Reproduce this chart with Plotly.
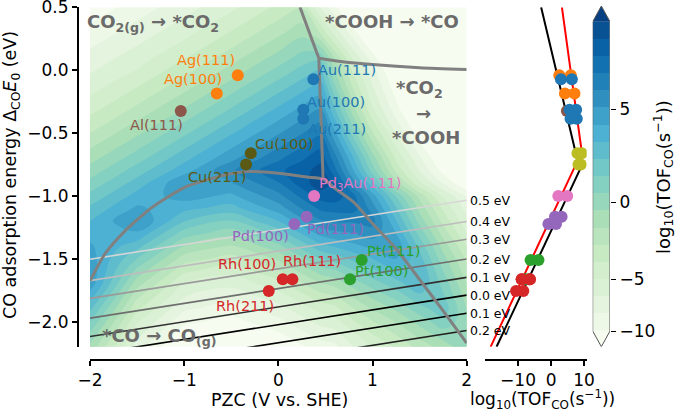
import numpy as np
import plotly.graph_objects as go
from plotly.colors import sequential, sample_colorscale

W, H = 675, 411
FONT = "DejaVu Sans"

# ---------------- data ----------------
# log10(TOF) field, rows from dE = 0.5 (top) down to dE = -2.2 (bottom)
pzc_grid = [-2.0, -1.5, -1.0, -0.5, 0.0, 0.25, 0.45, 0.6, 0.8, 1.0, 1.25, 1.5, 1.75, 2.0]
dE_grid = [0.5, 0.3, 0.1, 0.0, -0.1, -0.3, -0.5, -0.7, -0.8, -0.9, -1.0, -1.1, -1.2,
           -1.3, -1.4, -1.5, -1.6, -1.7, -1.8, -1.9, -2.0, -2.1, -2.2]
log_tof_grid = [
    [-11.1, -9.2, -7.3, -5.4, -3.5, -2.7, -6.8, -9.6, -13.4, -17.2, -20, -20, -20, -20],
    [-9.4, -7.5, -5.6, -3.7, -1.8, -0.85, -2.8, -5.65, -9.4, -13.2, -17.9, -20, -20, -20],
    [-7.7, -5.8, -3.9, -2.0, -0.1, 0.85, 1.1, -1.7, -5.5, -9.3, -14.0, -18.7, -20, -20],
    [-6.85, -4.95, -3.05, -1.15, 0.75, 1.7, 2.45, -0.6, -4.2, -7.8, -12.3, -16.8, -20, -20],
    [-6.0, -4.1, -2.2, -0.3, 1.6, 2.55, 3.3, 0.35, -3.2, -6.8, -11.3, -15.8, -20, -20],
    [-4.3, -2.4, -0.5, 1.4, 3.3, 4.25, 5.0, 2.3, -1.3, -4.9, -9.4, -13.9, -18.4, -20],
    [-2.6, -0.7, 1.2, 3.1, 5.0, 5.95, 6.7, 4.3, 0.9, -2.5, -6.7, -11.0, -15.2, -19.5],
    [-0.9, 1.0, 2.9, 4.8, 6.7, 7.65, 8.4, 6.4, 3.2, 0.0, -4.0, -8.0, -12.0, -16.0],
    [-0.05, 1.85, 3.75, 5.85, 7.6, 8.3, 9.1, 7.2, 4.1, 1.0, -2.9, -6.7, -10.6, -14.5],
    [0.8, 2.7, 5.0, 5.0, 6.8, 8.25, 9.3, 8.35, 5.5, 2.6, -1.1, -4.7, -8.3, -11.9],
    [1.65, 3.55, 4.55, 3.9, 5.7, 7.15, 8.2, 8.35, 7.15, 4.55, 1.3, -1.9, -5.2, -8.4],
    [2.5, 4.3, 3.45, 2.8, 4.6, 6.05, 7.1, 7.25, 7.25, 5.6, 2.4, -0.8, -4.0, -7.2],
    [3.2, 5.15, 2.35, 1.35, 3.2, 4.75, 5.9, 6.15, 6.15, 6.35, 3.25, 0.1, -3.0, -6.15],
    [3.8, 3.9, 0.95, -0.15, 1.7, 3.25, 4.4, 4.8, 5.05, 5.55, 4.1, 1.1, -1.9, -4.9],
    [4.25, 2.65, -0.55, -1.65, 0.2, 1.75, 2.9, 3.3, 3.85, 4.4, 4.85, 2.0, -0.9, -3.75],
    [4.6, 1.4, -2.05, -3.15, -1.3, 0.25, 1.4, 1.8, 2.55, 3.2, 4.1, 2.65, -0.1, -2.85],
    [4.85, 0.15, -3.55, -4.65, -2.8, -1.25, -0.1, 0.3, 1.25, 2.05, 3.0, 3.2, 0.5, -2.15],
    [4.75, -1.1, -5.05, -6.15, -4.3, -2.75, -1.6, -1.2, -0.05, 0.9, 1.9, 3.1, 1.1, -1.5],
    [3.6, -2.35, -6.55, -7.65, -5.8, -4.25, -3.1, -2.7, -1.35, -0.3, 0.8, 2.05, 1.55, -0.95],
    [2.5, -3.6, -8.05, -9.15, -7.3, -5.75, -4.6, -4.2, -2.65, -1.45, -0.35, 1.0, 1.95, -0.5],
    [1.4, -4.85, -9.55, -10.65, -8.8, -7.25, -6.1, -5.7, -3.95, -2.65, -1.45, -0.1, 1.1, -0.1],
    [0.3, -6.1, -11.05, -12.15, -10.3, -8.75, -7.6, -7.2, -5.25, -3.8, -2.55, -1.15, 0.0, 0.3],
    [-0.8, -7.35, -12.55, -13.65, -11.8, -10.25, -9.1, -8.7, -6.55, -4.95, -3.65, -2.2, -1.05, 0.2],
]

# contour levels
levels = [-10.0, -8.3, -6.6, -5.0, -3.8, -2.6, -1.5, -0.5, 0.5, 1.4, 2.3, 3.2,
          4.1, 5.1, 6.0, 6.9, 7.8, 8.7, 9.6]
cbar_tick_values = [-10, -5, 0, 5]
cbar_tick_text = ["\u221210", "\u22125", "0", "5"]

surfaces = ["Ag(111)", "Ag(100)", "Al(111)", "Au(111)", "Au(100)", "Au(211)",
            "Cu(100)", "Cu(211)", "Pd<sub>3</sub>Au(111)", "Pd(111)", "Pd(100)",
            "Pt(111)", "Pt(100)", "Rh(100)", "Rh(111)", "Rh(211)"]
pzc = [-0.431, -0.654, -1.036, 0.372, 0.265, 0.265, -0.293, -0.343, 0.38, 0.30,
       0.17, 0.885, 0.761, 0.047, 0.149, -0.102]
dE_CO = [-0.040, -0.186, -0.325, -0.072, -0.314, -0.386, -0.660, -0.751, -1.000,
         -1.166, -1.224, -1.509, -1.663, -1.663, -1.663, -1.756]
tof_black = [2.5, 4.2, 4.8, 3.0, 5.6, 5.9, 8.0, 8.3, 4.9, 3.2, 1.5, -3.8, -6.8,
             -6.4, -6.4, -8.4]
tof_red = [6.0, 7.1, 7.3, 6.3, 7.6, 7.8, 9.3, 9.0, 2.2, 1.2, -0.8, -6.2, -7.9,
           -8.9, -8.9, -10.6]

# limiting-step boundaries (grey lines)
low_pzc = [-2.0, -1.84, -1.63, -1.34, -0.99, -0.6, -0.33, 0.0, 0.3, 0.475,
           0.6, 0.8, 1.0, 1.25, 1.5, 1.75, 2.0]
low_dE = [-1.675, -1.46, -1.28, -1.09, -0.93, -0.84, -0.806, -0.82, -0.85, -0.865,
          -0.94, -1.05, -1.22, -1.42, -1.665, -1.915, -2.17]
vert_pzc = [0.43, 0.475]
vert_dE = [0.095, -0.865]
upper_pzc = [0.23, 0.43]
upper_dE = [0.5, 0.095]
horiz_pzc = [0.43, 0.7, 1.0, 1.5, 2.0]
horiz_dE = [0.095, 0.065, 0.045, 0.02, 0.005]

# energy iso-lines
ev_labels = ["0.5 eV", "0.4 eV", "0.3 eV", "0.2 eV", "0.1 eV", "0.0 eV", "0.1 eV", "0.2 eV"]
ev_x = [-2.0, 2.0]
ev_y_left = [-1.504, -1.674, -1.815, -1.972, -2.118, -2.259, -2.403, -2.541]
ev_y_right = [-1.034, -1.204, -1.345, -1.502, -1.648, -1.789, -1.933, -2.071]

# right panel volcano lines
black_tof = [-3.0, 8.7, -16.5]
black_dE = [0.5, -0.794, -2.2]
red_tof = [3.3, 9.3, -18.3]
red_dE = [0.5, -0.65, -2.2]

# ---------------- styles ----------------
C_AG, C_AL, C_AU = "#ff7f0e", "#8c564b", "#1f77b4"
C_CU, C_CU2 = "#5a5a14", "#bcbd22"
C_PD3AU, C_PD, C_PT, C_RH = "#e377c2", "#9467bd", "#2ca02c", "#d62728"
main_colors = [C_AG, C_AG, C_AL, C_AU, C_AU, C_AU, C_CU, C_CU, C_PD3AU, C_PD, C_PD,
               C_PT, C_PT, C_RH, C_RH, C_RH]
right_colors = [C_CU2 if c == C_CU else c for c in main_colors]
label_x = [-0.767, -0.909, -1.298, 0.724, 0.613, 0.628, 0.06, -0.654, 0.867, 0.602,
           -0.194, 1.221, 1.098, -0.335, 0.358, -0.354]
label_y = [0.079, -0.067, -0.439, 0.0, -0.253, -0.466, -0.591, -0.852, -0.905, -1.264,
           -1.317, -1.437, -1.597, -1.543, -1.517, -1.876]
ev_colors = ["#d6d6d6", "#bdbdbd", "#9a9a9a", "#6e6e6e", "#303030", "#000000",
             "#000000", "#202020"]
GREY = "rgb(128,128,128)"
REGION = "#6a6a6a"


def pxx(p):
    return p / W


def pxy(p):
    return 1 - p / H


gnbu = [[i / (len(sequential.GnBu) - 1), c] for i, c in enumerate(sequential.GnBu)]
nb = len(levels) - 1
band_colors = sample_colorscale(gnbu, [(i + 1) / (nb + 1) for i in range(nb)])

# map values to band index so non-uniform levels become uniform contours
Z = np.array(log_tof_grid, dtype=float)
lv = np.array(levels)
idx = np.arange(len(lv), dtype=float)
zi = np.interp(Z, lv, idx)
lo = Z < lv[0]
hi = Z > lv[-1]
zi[lo] = (Z[lo] - lv[0]) / (lv[1] - lv[0])
zi[hi] = idx[-1] + (Z[hi] - lv[-1]) / (lv[-1] - lv[-2])

fig = go.Figure()

fig.add_trace(go.Contour(
    x=pzc_grid, y=dE_grid[::-1], z=zi[::-1], colorscale=gnbu, autocontour=False,
    contours=dict(start=0, end=nb, size=1, coloring="fill", showlines=False),
    line=dict(width=0, smoothing=1.0), showscale=False, hoverinfo="skip",
    xaxis="x", yaxis="y"))

for k in range(len(ev_labels)):
    fig.add_trace(go.Scatter(x=ev_x, y=[ev_y_left[k], ev_y_right[k]], mode="lines",
                             line=dict(color=ev_colors[k], width=1.6),
                             hoverinfo="skip", xaxis="x", yaxis="y"))

for xs, ys in [(low_pzc, low_dE), (vert_pzc, vert_dE), (upper_pzc, upper_dE),
               (horiz_pzc, horiz_dE)]:
    fig.add_trace(go.Scatter(x=xs, y=ys, mode="lines",
                             line=dict(color=GREY, width=3, shape="spline", smoothing=0.6),
                             hoverinfo="skip", xaxis="x", yaxis="y"))

fig.add_trace(go.Scatter(x=pzc, y=dE_CO, mode="markers",
                         marker=dict(size=12, color=main_colors, line=dict(width=0)),
                         xaxis="x", yaxis="y"))

# right panel
fig.add_trace(go.Scatter(x=black_tof, y=black_dE, mode="lines",
                         line=dict(color="black", width=2), xaxis="x2", yaxis="y2"))
fig.add_trace(go.Scatter(x=red_tof, y=red_dE, mode="lines",
                         line=dict(color="red", width=2), xaxis="x2", yaxis="y2"))
for i in range(len(surfaces)):
    fig.add_trace(go.Scatter(x=[tof_black[i], tof_red[i]], y=[dE_CO[i], dE_CO[i]],
                             mode="markers",
                             marker=dict(size=12, color=right_colors[i], line=dict(width=0)),
                             xaxis="x2", yaxis="y2"))

# colour bar
fig.add_trace(go.Heatmap(x=[0, 1], y=list(range(nb + 1)), z=[[i] for i in range(nb)],
                         colorscale=[[i / (nb - 1), c] for i, c in enumerate(band_colors)],
                         zmin=0, zmax=nb - 1, showscale=False, hoverinfo="skip",
                         xaxis="x3", yaxis="y3"))
tri_h = 0.91
fig.add_trace(go.Scatter(x=[0, 1, 0.5, 0], y=[nb, nb, nb + tri_h, nb], fill="toself",
                         fillcolor=sequential.GnBu[-1], mode="lines", line=dict(width=0),
                         xaxis="x3", yaxis="y3"))
fig.add_trace(go.Scatter(x=[0, 1, 0.5, 0], y=[0, 0, -tri_h, 0], fill="toself",
                         fillcolor=sequential.GnBu[0], mode="lines", line=dict(width=0),
                         xaxis="x3", yaxis="y3"))
fig.add_trace(go.Scatter(x=[0, 0.5, 1, 1, 0.5, 0, 0], y=[0, -tri_h, 0, nb, nb + tri_h, nb, 0],
                         mode="lines", line=dict(color="#555555", width=1),
                         xaxis="x3", yaxis="y3"))
cb_tickvals = list(np.interp(cbar_tick_values, lv, idx))

dom_y = [pxy(346.8), pxy(7.3)]
axis_common = dict(showline=True, linecolor="black", linewidth=2, ticks="outside",
                   ticklen=5, tickwidth=1.5, tickcolor="black", showgrid=False,
                   zeroline=False, automargin=False, ticklabeloverflow="allow",
                   tickfont=dict(family=FONT, size=17, color="black"))

fig.update_layout(
    template="none",
    width=W, height=H, margin=dict(l=0, r=0, t=0, b=0, pad=0),
    paper_bgcolor="white", plot_bgcolor="white", showlegend=False,
    font=dict(family=FONT, color="black"),
    xaxis=dict(domain=[pxx(90), pxx(466.7)], range=[-2, 2], anchor="free",
               position=pxy(360), tickvals=[-2, -1, 0, 1, 2],
               ticktext=["\u22122", "\u22121", "0", "1", "2"], **axis_common),
    yaxis=dict(domain=dom_y, range=[-2.2, 0.5], anchor="free", position=pxx(78),
               tickvals=[0.5, 0, -0.5, -1, -1.5, -2],
               ticktext=["0.5", "0.0", "\u22120.5", "\u22121.0", "\u22121.5", "\u22122.0"],
               **axis_common),
    xaxis2=dict(domain=[pxx(485), pxx(586.7)], range=[-20, 10.8], anchor="free",
                position=pxy(360), tickvals=[-10, 0, 10],
                ticktext=["\u221210", "0", "10"], **axis_common),
    yaxis2=dict(domain=dom_y, range=[-2.2, 0.5], anchor="x2", visible=False,
                automargin=False),
    xaxis3=dict(domain=[pxx(592.7), pxx(610)], range=[0, 1], anchor="y3", visible=False,
                automargin=False),
    yaxis3=dict(domain=[pxy(346.7), pxy(6)], range=[-tri_h, nb + tri_h], anchor="x3",
                side="right", tickvals=cb_tickvals, ticktext=cbar_tick_text,
                ticks="outside", ticklen=5, tickwidth=1.2, tickcolor="black",
                showline=False, showgrid=False, zeroline=False, automargin=False,
                ticklabeloverflow="allow",
                tickfont=dict(family=FONT, size=17, color="black")),
)

C = dict(xanchor="center", yanchor="middle", showarrow=False)
ann = []
for i, s in enumerate(surfaces):
    ann.append(dict(x=label_x[i], y=label_y[i], xref="x", yref="y", text=s,
                    font=dict(family=FONT, size=14.5, color=main_colors[i]), **C))
for k, t in enumerate(ev_labels):
    ann.append(dict(x=pxx(468), y=ev_y_right[k], xref="paper", yref="y", text=t,
                    xanchor="left", yanchor="middle", showarrow=False,
                    font=dict(family=FONT, size=12.5, color="black")))
rfont = dict(family=FONT, size=18, color=REGION)
ann += [
    dict(x=pxx(85), y=pxy(23.3), xref="paper", yref="paper", xanchor="left",
         yanchor="middle", showarrow=False,
         text="<b>CO<sub>2(g)</sub> \u2192 *CO<sub>2</sub></b>", font=rfont),
    dict(x=1.204, y=0.385, xref="x", yref="y", text="<b>*COOH \u2192 *CO</b>",
         font=rfont, **C),
    dict(x=1.504, y=-0.146, xref="x", yref="y", text="<b>*CO<sub>2</sub></b>",
         font=rfont, **C),
    dict(x=1.536, y=-0.346, xref="x", yref="y", text="<b>\u2192</b>", font=rfont, **C),
    dict(x=1.568, y=-0.533, xref="x", yref="y", text="<b>*COOH</b>", font=rfont, **C),
    dict(x=pxx(100), y=pxy(336.7), xref="paper", yref="paper", xanchor="left",
         yanchor="middle", showarrow=False,
         text="<b>*CO \u2192 CO<sub>(g)</sub></b>", font=rfont),
]
ann += [
    dict(x=pxx(279), y=pxy(400), xref="paper", yref="paper", text="PZC (V vs. SHE)",
         font=dict(family=FONT, size=17.5, color="black"), **C),
    dict(x=pxx(542), y=pxy(399.5), xref="paper", yref="paper",
         text="log<sub>10</sub>(TOF<sub>CO</sub>(s<sup>\u22121</sup>))",
         font=dict(family=FONT, size=17, color="black"), **C),
    dict(x=pxx(11), y=pxy(175), xref="paper", yref="paper", textangle=-90,
         text="CO adsorption energy \u0394<sub>CO</sub><i>E</i><sub>0</sub> (eV)",
         font=dict(family=FONT, size=17.5, color="black"), **C),
    dict(x=pxx(663), y=pxy(177), xref="paper", yref="paper", textangle=-90,
         text="log<sub>10</sub>(TOF<sub>CO</sub>(s<sup>\u22121</sup>))",
         font=dict(family=FONT, size=18, color="black"), **C),
]
fig.update_layout(annotations=ann)

fig.write_html("out.html", config={"displayModeBar": False},
               post_script="document.body.style.margin='0px';")
